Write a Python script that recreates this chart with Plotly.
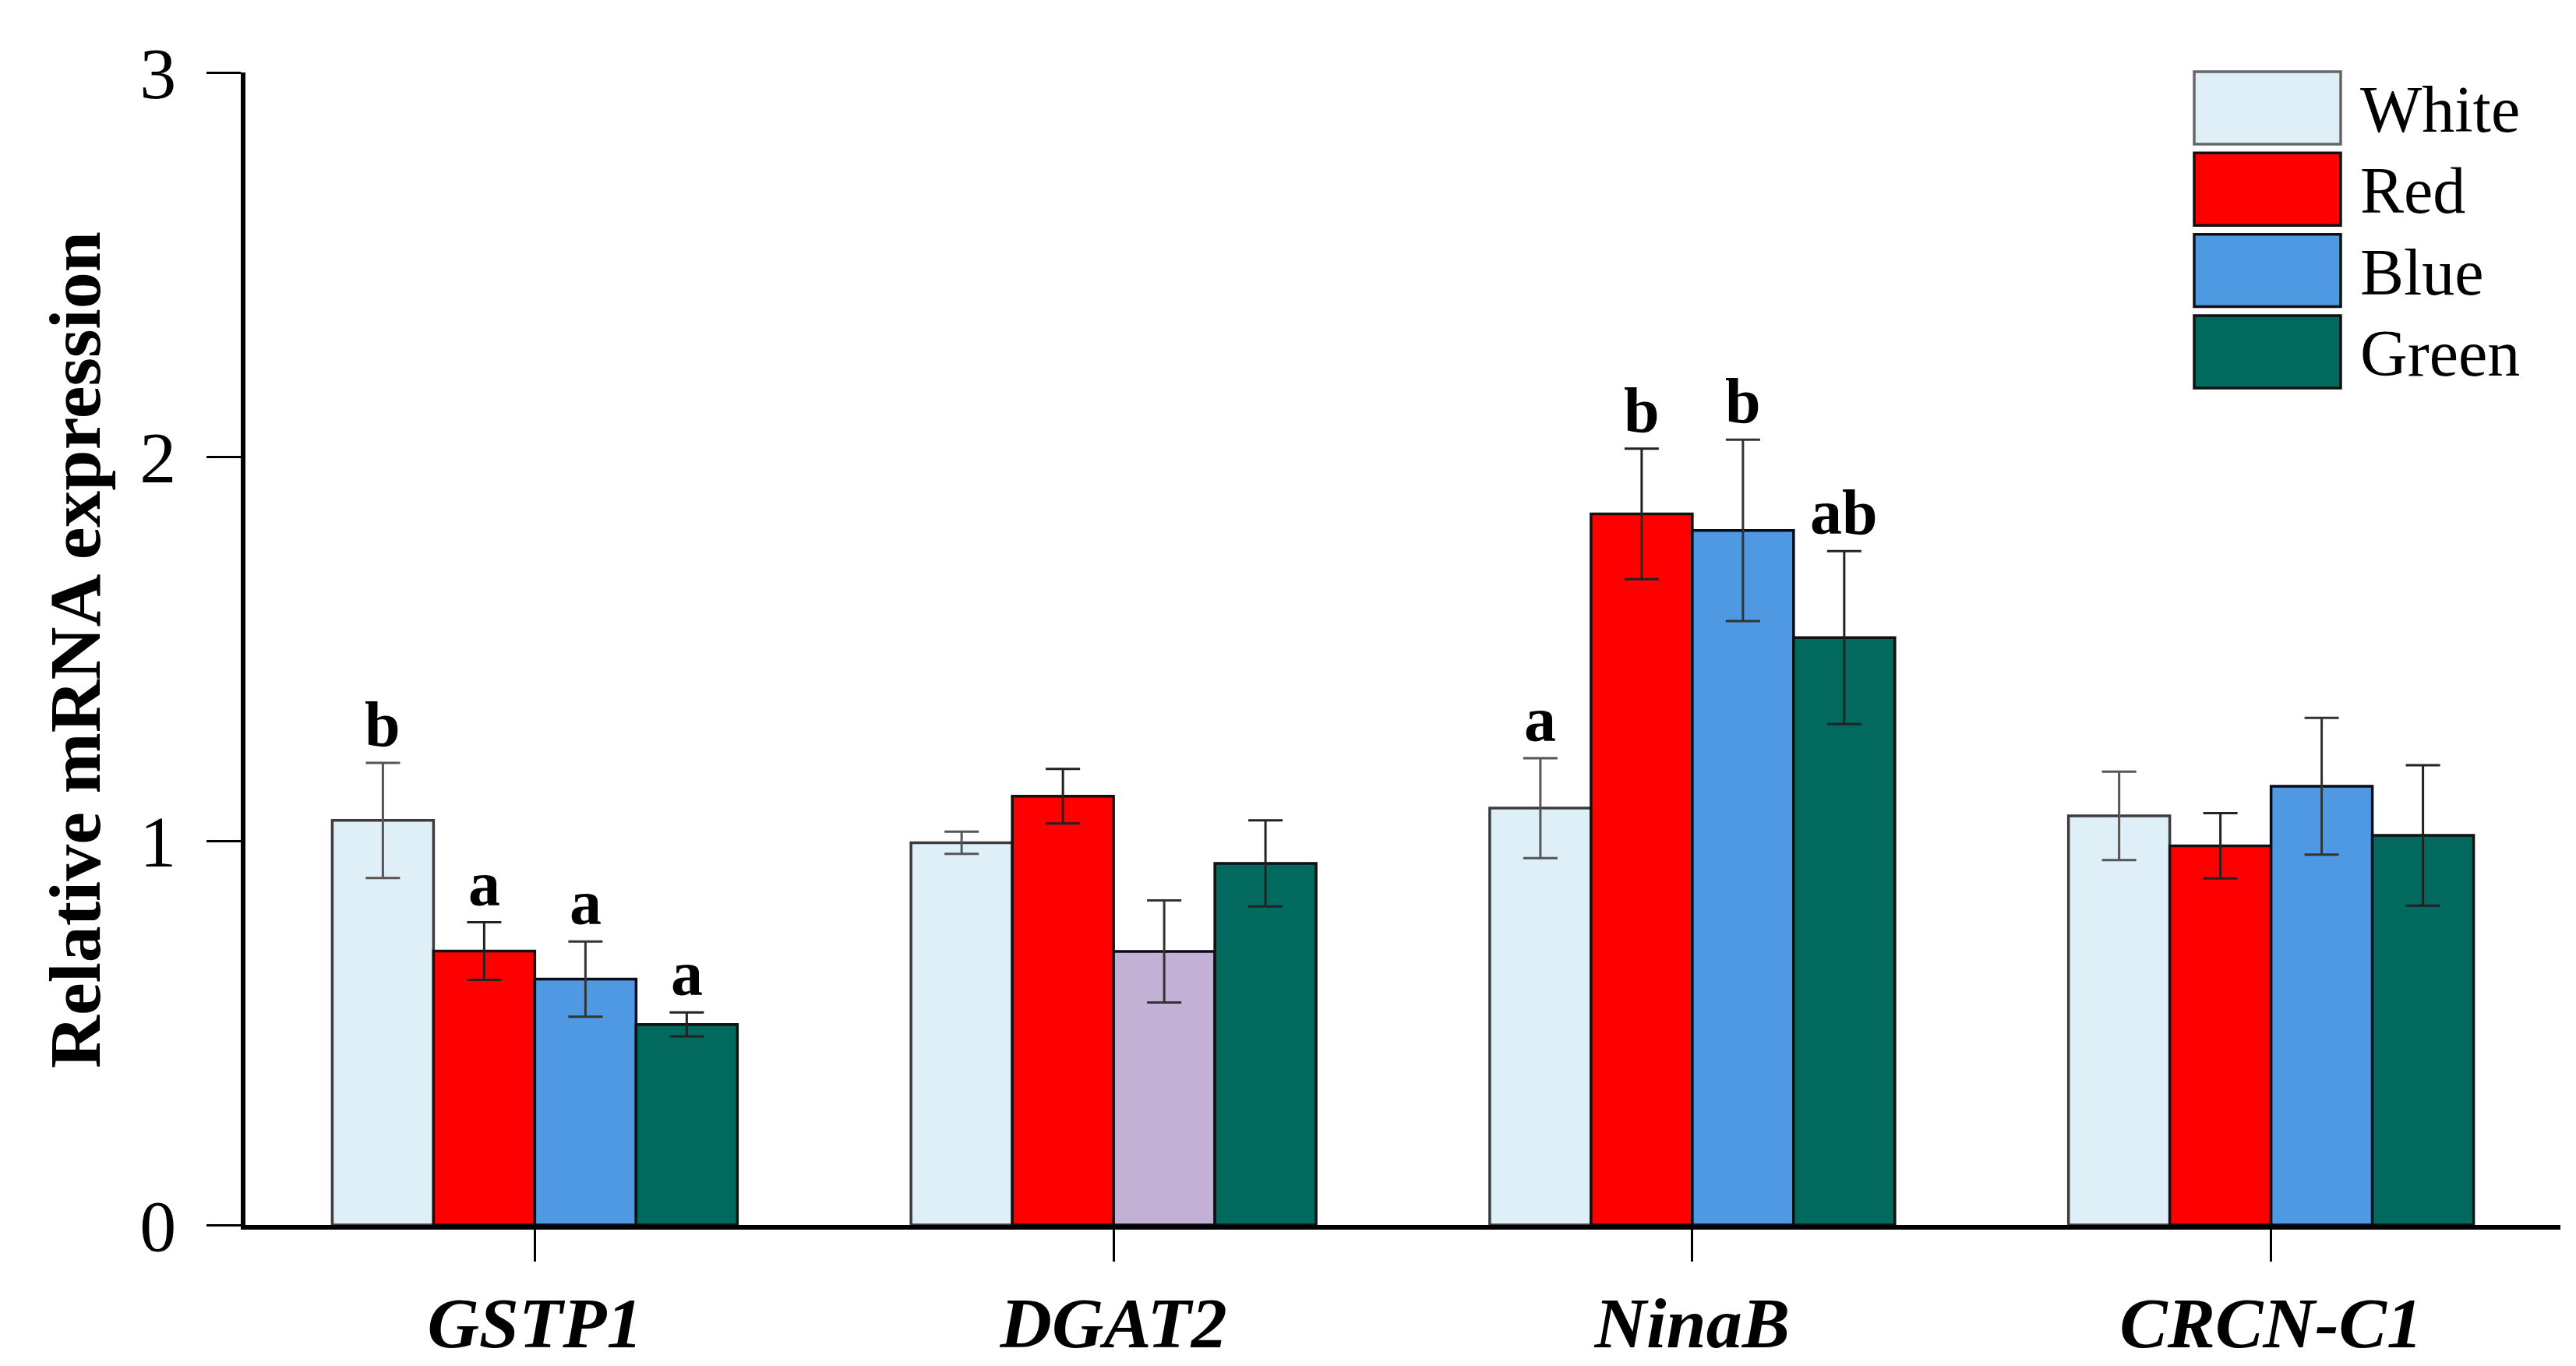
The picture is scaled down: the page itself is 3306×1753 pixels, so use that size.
import plotly.graph_objects as go

genes = ["GSTP1", "DGAT2", "NinaB", "CRCN-C1"]
groups = ["White", "Red", "Blue", "Green"]

white_mean = [1.053, 0.995, 1.085, 1.065]
white_err = [0.150, 0.029, 0.130, 0.115]
red_mean = [0.713, 1.116, 1.851, 0.987]
red_err = [0.075, 0.071, 0.170, 0.085]
blue_mean = [0.640, 0.712, 1.808, 1.142]
blue_err = [0.098, 0.133, 0.236, 0.178]
green_mean = [0.522, 0.941, 1.529, 1.014]
green_err = [0.031, 0.112, 0.225, 0.183]

white_sig = ["b", "", "a", ""]
red_sig = ["a", "", "b", ""]
blue_sig = ["a", "", "b", ""]
green_sig = ["a", "", "ab", ""]

y_ticks = [0, 1, 2, 3]

W, H = 3306, 1753
L, R, T, B = 307, 28, 85, 187
plot_w = W - L - R
plot_h = H - T - B
FONT = "Liberation Serif, Times New Roman, serif"
BARGAP = 0.30

colors = {"White": "#DEEFF7", "Red": "#FF0000", "Blue": "#4F98E2", "Green": "#02695F"}
edges = {"White": "#3c3c3c", "Red": "#111111", "Blue": "#0a0a1a", "Green": "#111111"}
err_cols = {"White": "#555555", "Red": "#222222", "Blue": "#333333", "Green": "#222222"}
# the DGAT2 "Blue" bar is drawn lavender in the original
blue_bar_colors = [colors["Blue"], "#C2B1D5", colors["Blue"], colors["Blue"]]

series = [
    ("White", white_mean, white_err, white_sig, colors["White"]),
    ("Red", red_mean, red_err, red_sig, colors["Red"]),
    ("Blue", blue_mean, blue_err, blue_sig, blue_bar_colors),
    ("Green", green_mean, green_err, green_sig, colors["Green"]),
]

fig = go.Figure()
for name, mean, err, sig, col in series:
    fig.add_trace(go.Bar(
        x=genes, y=mean, name=name,
        marker=dict(color=col, line=dict(color=edges[name], width=3.5)),
        error_y=dict(type="data", array=err, visible=True,
                     color=err_cols[name], thickness=3, width=22),
        showlegend=False,
    ))

# significance letters above the error bars
bar_px = plot_w / len(genes) * (1 - BARGAP) / len(groups)
annotations = []
for k, (name, mean, err, sig, col) in enumerate(series):
    off = (k - (len(groups) - 1) / 2) * bar_px
    for i, s in enumerate(sig):
        if not s:
            continue
        annotations.append(dict(
            x=genes[i], y=mean[i] + err[i], xref="x", yref="y",
            xshift=off, yshift=2, yanchor="bottom", showarrow=False,
            text="<b>%s</b>" % s, font=dict(family=FONT, size=82, color="black"),
        ))


def px_x(px):
    return (px - L) / plot_w


def px_y(py):
    return (H - B - py) / plot_h


# hand drawn legend with big swatches
shapes = []
leg_x0, leg_x1 = 2808, 2996
leg_top, box_h, step = 84, 93, 104.5
for k, name in enumerate(groups):
    y0 = leg_top + k * step
    shapes.append(dict(
        type="rect", xref="paper", yref="paper",
        x0=px_x(leg_x0), x1=px_x(leg_x1), y0=px_y(y0 + box_h), y1=px_y(y0),
        fillcolor=colors[name],
        line=dict(color="#666666" if name == "White" else "#111111", width=3.5),
    ))
    annotations.append(dict(
        x=px_x(3019), y=px_y(y0 + box_h / 2 + 2), xref="paper", yref="paper",
        xanchor="left", yanchor="middle", showarrow=False, text=name,
        font=dict(family=FONT, size=84, color="black"),
    ))

annotations.append(dict(
    x=px_x(88), y=0.499, xref="paper", yref="paper", textangle=-90,
    xanchor="center", yanchor="middle", showarrow=False,
    text="<b>Relative mRNA expression</b>",
    font=dict(family=FONT, size=94, color="black"),
))

fig.update_layout(
    width=W, height=H,
    margin=dict(l=L, r=R, t=T, b=B),
    barmode="group", bargap=BARGAP, bargroupgap=0,
    plot_bgcolor="white", paper_bgcolor="white",
    font=dict(family=FONT, color="black"),
    annotations=annotations, shapes=shapes,
)
fig.update_xaxes(
    showline=True, linecolor="black", linewidth=6,
    ticks="outside", ticklen=41, tickwidth=3, tickcolor="black",
    tickfont=dict(family=FONT, size=92, weight="bold", style="italic"),
    ticklabelstandoff=0, showgrid=False, zeroline=False,
    range=[-0.5, 3.5],
)
fig.update_yaxes(
    range=[0, 3], tickvals=y_ticks,
    showline=True, linecolor="black", linewidth=6,
    ticks="outside", ticklen=44, tickwidth=3, tickcolor="black",
    tickfont=dict(family=FONT, size=94), ticklabelstandoff=20,
    showgrid=False, zeroline=False,
)

fig.write_html("out.html")
